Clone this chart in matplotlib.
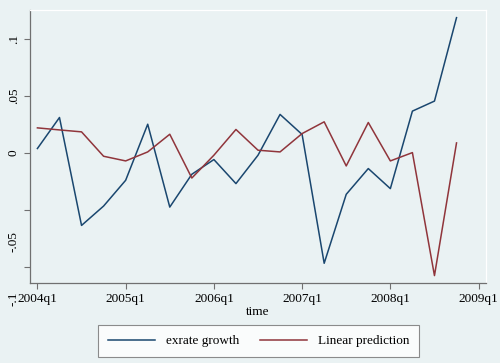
import matplotlib
matplotlib.use("Agg")
import matplotlib.pyplot as plt
import matplotlib.transforms as mtransforms

# quarters 2004q1 .. 2008q4 (0 = 2004q1)
quarters = list(range(20))
exrate_growth = [0.0040, 0.0312, -0.0635, -0.0465, -0.0239, 0.0253, -0.0474, -0.0186,
                 -0.0057, -0.0268, -0.0019, 0.0339, 0.0163, -0.0967, -0.0362, -0.0136,
                 -0.0312, 0.0368, 0.0456, 0.1188]
linear_pred = [0.0221, 0.0203, 0.0186, -0.0028, -0.0069, 0.0010, 0.0165, -0.0219,
               -0.0019, 0.0207, 0.0025, 0.0010, 0.0171, 0.0274, -0.0113, 0.0268,
               -0.0069, 0.0004, -0.1075, 0.0089]
xtick_pos = [0, 4, 8, 12, 16, 20]
xtick_labels = ['2004q1', '2005q1', '2006q1', '2007q1', '2008q1', '2009q1']
ytick_pos = [-0.1, -0.05, 0, 0.05, 0.1]
ytick_labels = ['-.1', '-.05', '0', '.05', '.1']

bg = '#EAF2F3'
plt.rcParams['font.family'] = ['Liberation Serif', 'DejaVu Serif']

fig = plt.figure(figsize=(5, 3.63), dpi=100, facecolor=bg)
ax = fig.add_axes([0.0594, 0.2204, 0.9132, 0.752])
ax.set_facecolor(bg)

l1, = ax.plot(quarters, exrate_growth, color='#1A476F', lw=1.1, label='exrate growth')
l2, = ax.plot(quarters, linear_pred, color='#90353B', lw=1.1, label='Linear prediction')

ax.set_xlim(-0.35, 20.35)
ax.set_ylim(-0.114, 0.1255)
ax.set_xticks(xtick_pos)
ax.set_xticklabels(xtick_labels, fontsize=9.5)
ax.set_yticks(ytick_pos)
ax.set_yticklabels(ytick_labels, fontsize=9.5, rotation=90, va='center')
ax.tick_params(direction='out', length=4, width=0.8, color='#707070', pad=3)

# bottom two y labels sit lower in the original
offset = mtransforms.ScaledTranslation(0, -23 / 72, fig.dpi_scale_trans)
for lab in ax.get_yticklabels()[:2]:
    lab.set_transform(lab.get_transform() + offset)

for s in ['left', 'bottom']:
    ax.spines[s].set_color('#707070')
    ax.spines[s].set_linewidth(0.9)
for s in ['top', 'right']:
    ax.spines[s].set_color('white')
    ax.spines[s].set_linewidth(0.9)

ax.set_xlabel('time', fontsize=9.5, labelpad=1)

leg = fig.legend(handles=[l1, l2], loc='center', bbox_to_anchor=(0.517, 0.06),
                 ncol=2, fontsize=9.5, frameon=True, fancybox=False,
                 handlelength=3.6, columnspacing=1.6, borderpad=0.75,
                 handletextpad=0.8)
leg.get_frame().set_edgecolor('#707070')
leg.get_frame().set_linewidth(0.8)
leg.get_frame().set_facecolor('white')

fig.savefig('out.png', dpi=100, facecolor=bg)
